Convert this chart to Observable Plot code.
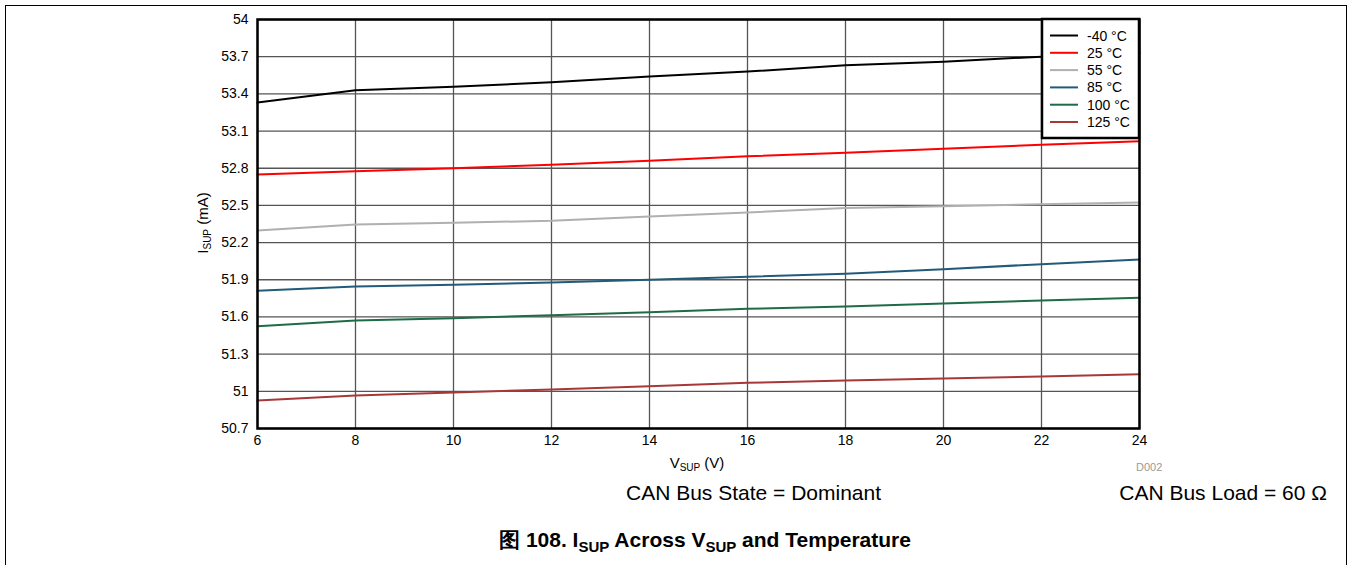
<!DOCTYPE html>
<html>
<head>
<meta charset="utf-8">
<script src="https://cdn.jsdelivr.net/npm/d3@7"></script>
<script src="https://cdn.jsdelivr.net/npm/@observablehq/plot@0.6"></script>
<style>
  html, body { margin: 0; padding: 0; background: #fff; }
  #wrap { position: relative; width: 1351px; height: 565px; overflow: hidden; font-family: "Liberation Sans", Arial, sans-serif; }
  #outer { position: absolute; left: 5px; top: 5px; width: 1342px; height: 600px; border: 1px solid #000; box-sizing: border-box; }
  .note { position: absolute; color: #000; white-space: nowrap; line-height: 1; }
  #chart { position: absolute; left: 0; top: 0; }
</style>
</head>
<body>
<div id="wrap">
  <div id="outer"></div>
  <div id="chart"></div>
  <div class="note" style="left:1136px; top:462px; font-size:11px; color:#999;">D002</div>
  <div class="note" style="left:626px; top:482px; font-size:21px;">CAN Bus State = Dominant</div>
  <div class="note" style="right:24px; top:482px; font-size:21px;">CAN Bus Load = 60 Ω</div>
  <div class="note" style="left:0; width:1410px; text-align:center; top:529px; font-size:21px; font-weight:bold;">图 108. I<sub style="font-size:15px;">SUP</sub> Across V<sub style="font-size:15px;">SUP</sub> and Temperature</div>
</div>
<script>
const temps = ["-40 °C", "25 °C", "55 °C", "85 °C", "100 °C", "125 °C"];
const colors = ["#000000", "#ff0000", "#b0b0b0", "#215b7c", "#1f6b45", "#a83838"];
const vsup = [6, 8, 10, 12, 14, 16, 18, 20, 22, 24];
const isupM40 = [53.33, 53.43, 53.457, 53.494, 53.54, 53.58, 53.63, 53.66, 53.70, 53.73];
const isup25  = [52.749, 52.776, 52.80, 52.828, 52.86, 52.897, 52.924, 52.957, 52.989, 53.018];
const isup55  = [52.298, 52.346, 52.360, 52.376, 52.41, 52.443, 52.48, 52.494, 52.51, 52.524];
const isup85  = [51.811, 51.846, 51.859, 51.878, 51.90, 51.924, 51.948, 51.985, 52.026, 52.064];
const isup100 = [51.525, 51.571, 51.59, 51.614, 51.638, 51.666, 51.685, 51.709, 51.733, 51.755];
const isup125 = [50.926, 50.967, 50.991, 51.015, 51.041, 51.069, 51.087, 51.104, 51.120, 51.138];
const xTicks = [6, 8, 10, 12, 14, 16, 18, 20, 22, 24];
const yTicks = [50.7, 51, 51.3, 51.6, 51.9, 52.2, 52.5, 52.8, 53.1, 53.4, 53.7, 54];
const yTickLabels = ["50.7", "51", "51.3", "51.6", "51.9", "52.2", "52.5", "52.8", "53.1", "53.4", "53.7", "54"];

const seriesValues = [isupM40, isup25, isup55, isup85, isup100, isup125];
const data = [];
temps.forEach((t, i) => vsup.forEach((v, j) => data.push({temp: t, v, i: seriesValues[i][j]})));

const plot = Plot.plot({
  width: 1351,
  height: 475,
  marginLeft: 257,
  marginRight: 212,
  marginTop: 19,
  marginBottom: 47,
  style: {fontFamily: "'Liberation Sans', Arial, sans-serif", fontSize: "14px", color: "#000", background: "transparent"},
  x: {domain: [6, 24], label: null},
  y: {domain: [50.7, 54], label: null},
  color: {domain: temps, range: colors, legend: false},
  marks: [
    Plot.gridX(xTicks, {stroke: "#555", strokeOpacity: 1, strokeWidth: 1.3}),
    Plot.gridY(yTicks, {stroke: "#555", strokeOpacity: 1, strokeWidth: 1.3}),
    Plot.line(data, {x: "v", y: "i", z: "temp", stroke: "temp", strokeWidth: 2}),
    Plot.frame({stroke: "#000", strokeWidth: 2.5}),
    Plot.axisX(xTicks, {tickSize: 0, tickPadding: 7, fontSize: 14}),
    Plot.axisY(yTicks, {tickSize: 0, tickPadding: 9, fontSize: 14, tickFormat: (d) => yTickLabels[yTicks.indexOf(d)]})
  ]
});
document.getElementById("chart").appendChild(plot);

const svg = d3.select(plot);
// Axis titles with subscripts
const xl = svg.append("text").attr("x", 697).attr("y", 468).attr("text-anchor", "middle")
  .style("font-size", "15px").attr("fill", "#000");
xl.append("tspan").text("V");
xl.append("tspan").text("SUP").attr("dy", 3).style("font-size", "10px");
xl.append("tspan").text(" (V)").attr("dy", -3);

const yl = svg.append("text").attr("transform", "translate(208,223) rotate(-90)").attr("text-anchor", "middle")
  .style("font-size", "15px").attr("fill", "#000");
yl.append("tspan").text("I");
yl.append("tspan").text("SUP").attr("dy", 3).style("font-size", "10px");
yl.append("tspan").text(" (mA)").attr("dy", -3);

// Legend box
const lg = svg.append("g");
lg.append("rect").attr("x", 1042).attr("y", 19).attr("width", 97).attr("height", 119)
  .attr("fill", "#fff").attr("stroke", "#000").attr("stroke-width", 2.5);
temps.forEach((t, k) => {
  const yy = 35.5 + k * 17.3;
  lg.append("line").attr("x1", 1050).attr("x2", 1078).attr("y1", yy).attr("y2", yy)
    .attr("stroke", colors[k]).attr("stroke-width", 2);
  lg.append("text").attr("x", 1087).attr("y", yy + 5).attr("text-anchor", "start")
    .text(t).style("font-size", "14px").attr("fill", "#000");
});
</script>
</body>
</html>
